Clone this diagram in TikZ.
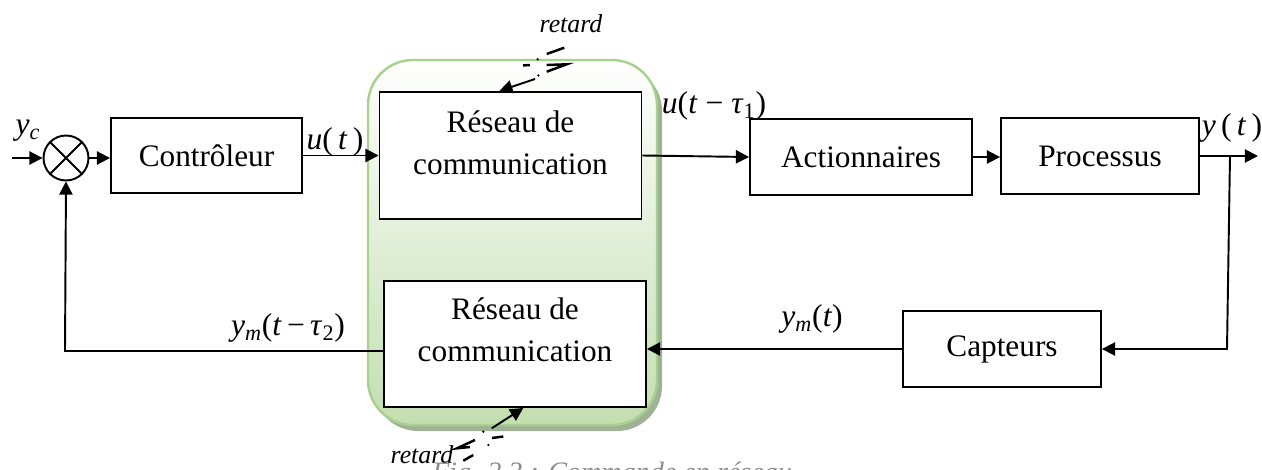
\documentclass[tikz,border=0pt]{standalone}
\usepackage{fontspec}
\setmainfont{Liberation Serif}
\usetikzlibrary{arrows.meta,calc}
\definecolor{grborder}{RGB}{169,209,142}
\definecolor{grbot}{RGB}{195,222,176}
\definecolor{grmid}{RGB}{238,244,232}
\definecolor{grshadow}{RGB}{160,178,150}
\newcommand\mi[1]{\textit{#1}}
\tikzset{
  blk/.style={draw, line width=1.1pt, fill=white, inner sep=0pt, font=\fontsize{17.8}{24}\selectfont, align=center},
  txt/.style={inner sep=0pt, font=\fontsize{17.8}{24}\selectfont, align=center},
  lbl/.style={inner sep=0pt, font=\fontsize{18}{22}\selectfont},
  rtd/.style={inner sep=0pt, font=\fontsize{14.7}{18}\selectfont\itshape},
  conn/.style={line width=1.1pt, -{Triangle[length=7.5pt,width=7.5pt]}},
  wire/.style={line width=1.1pt},
  dl/.style={line width=1.4pt},
}
\begin{document}
\begin{tikzpicture}[x=0.02cm,y=-0.02cm]
\useasboundingbox (0,0) rectangle (1262,470);
\clip (0,0) rectangle (1262,470);
% network zone
\fill[grshadow, rounded corners=0.9cm] (373,66) rectangle (662,431);
\draw[grborder, line width=1.4pt, rounded corners=0.9cm, top color=white, middle color=grmid, bottom color=grbot] (368,60) rectangle (657,425);

% labels (drawn before boxes)
\node[lbl] (lyc) at (28,131) {\mi{y}\textsubscript{\mi{c}}};
\node[lbl] (lut) at (335,142) {\mi{u}(\,\mi{t}\,)};
\node[lbl] (lutau) at (714,106) {\mi{u}(\mi{t} − \mi{τ}\textsubscript{1})};
\node[lbl] (lyt) at (1232,128) {\mi{y}\,(\,\mi{t}\,)};
\node[lbl] (lymt) at (812,319) {\mi{y}\textsubscript{\mi{m}}(\mi{t})};
\node[lbl] (lymtau) at (288,328) {\mi{y}\textsubscript{\mi{m}}(\mi{t}\,−\,\mi{τ}\textsubscript{2})};

% blocks
\node[circle, draw, line width=1.1pt, minimum size=0.9cm, inner sep=0pt, fill=white] (sum) at (66,158) {};
\draw[wire] (sum.north west) -- (sum.south east);
\draw[wire] (sum.north east) -- (sum.south west);
\node[blk, minimum width=3.82cm, minimum height=1.5cm] (ctrl) at (206.5,155.5) {Contrôleur};
\node[blk, minimum width=5.24cm, minimum height=2.54cm] (topnet) at (510.5,155.5) {};
\node[txt] (topnettxt) at (510.5,142.5) {Réseau de\\communication};
\node[blk, minimum width=5.24cm, minimum height=2.52cm] (botnet) at (515,344) {};
\node[txt] (botnettxt) at (515,330) {Réseau de\\communication};
\node[blk, minimum width=4.44cm, minimum height=1.52cm] (act) at (861,157) {Actionnaires};
\node[blk, minimum width=3.96cm, minimum height=1.52cm] (proc) at (1100,156) {Processus};
\node[blk, minimum width=3.96cm, minimum height=1.52cm] (cap) at (1002,349) {Capteurs};

% connectors
\coordinate (in) at (12,158);
\coordinate (out) at (1258,156);
\coordinate (br) at (1230,156);
\coordinate (brd) at (1227,349);
\coordinate (fbl) at (65,351);
\draw[conn] (in) -- (sum.west);
\draw[conn] (sum.east) -- (sum.east -| ctrl.west);
\draw[conn] (ctrl.east) -- (topnet.west);
\draw[conn] (topnet.east) -- (act.west);
\draw[conn] (act.east) -- (act.east -| proc.west);
\draw[conn] (proc.east) -- (out);
\draw[conn] (br) -- (brd) -- (cap.east);
\draw[conn] (cap.west) -- (cap.west -| botnet.east);
\draw[conn] (fbl -| botnet.west) -- (fbl) -- (sum.south);

% retard (top)
\node[rtd] (rt1) at (571,24) {retard};
\coordinate (t1a) at (564.3,47.7);
\coordinate (t1b) at (546.7,54);
\coordinate (t1c) at (535,79);
\draw[dl] (t1a) -- (t1b);
\fill (537.7,59.3) circle (1.3);
\draw[dl] (523,65.5) -- (530,65);
\draw[dl] (546.7,65) -- (566.7,64.3) -- (546.7,71.7);
\fill (538.3,75.5) circle (1.3);
\draw[conn] (t1c) -- (topnet.north -| 499.3,0);

% retard (bottom)
\node[rtd] (rt2) at (422,455) {retard};
\coordinate (b1a) at (463.3,460.7);
\coordinate (b1b) at (473.3,455);
\coordinate (b1c) at (491.7,428.3);
\draw[dl] (b1a) -- (b1b);
\draw[dl] (475,440) -- (457,448.3) -- (470,447);
\fill (488.3,445) circle (1.3);
\draw[dl] (492,438) -- (503.3,436.5);
\fill (483.3,431.7) circle (1.3);
\draw[conn] (b1c) -- (botnet.south -| 523.3,0);

% caption (cut by the frame)
\node[font=\fontsize{16}{20}\selectfont\itshape, text=black!45, anchor=base, inner sep=0pt] (figcap) at (612,481) {Fig. 2.3 : Commande en réseau};
\end{tikzpicture}
\end{document}
